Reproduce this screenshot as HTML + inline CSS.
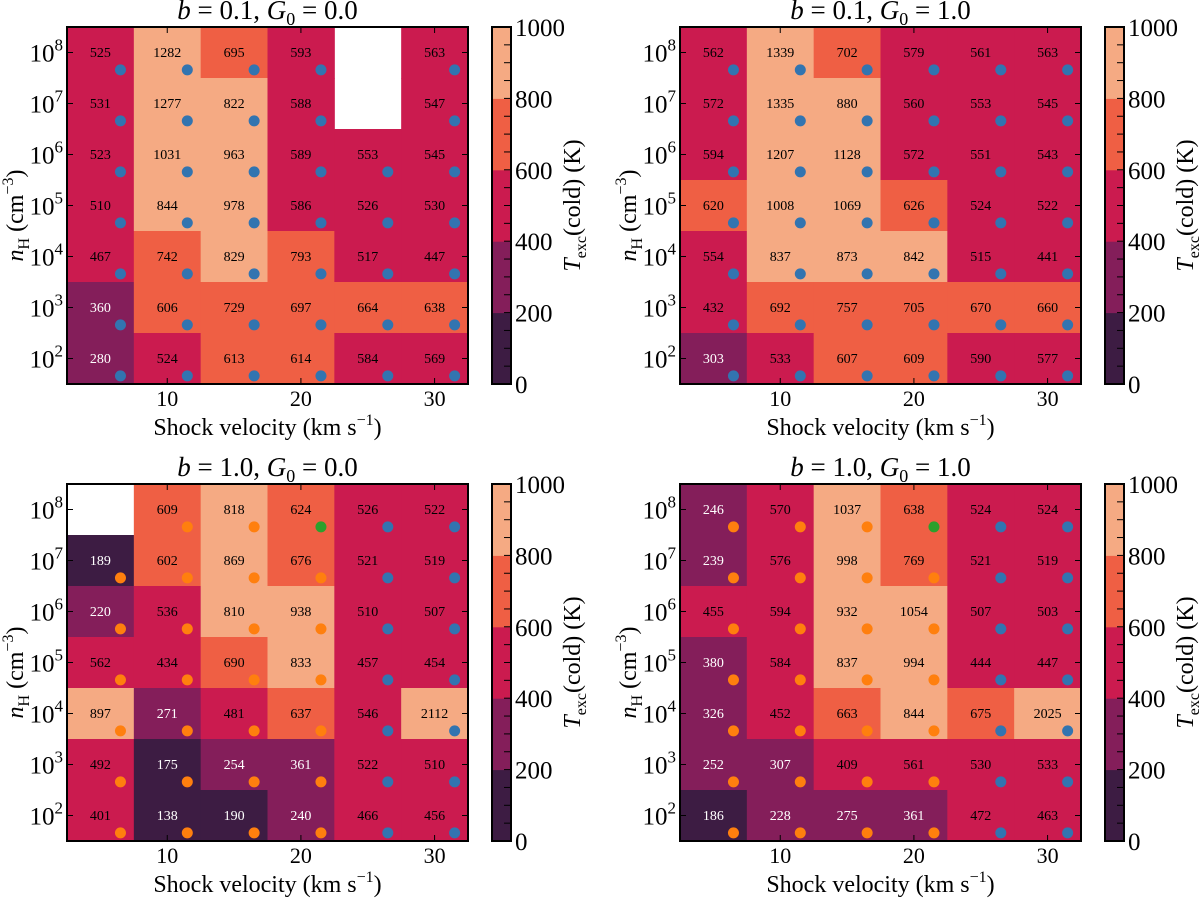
<!DOCTYPE html>
<html><head><meta charset="utf-8"><style>
body{margin:0;background:#fff}
svg text{font-family:"Liberation Serif",serif}
</style></head><body>
<svg id="fig" width="1200" height="898" viewBox="0 0 1200 898" xmlns="http://www.w3.org/2000/svg"></svg>
<script>
const velocities=[5,10,15,20,25,30];
const densExp=[8,7,6,5,4,3,2];
const titlesB=["0.1","0.1","1.0","1.0"];
const titlesG=["0.0","1.0","0.0","1.0"];
const tempP1=[[525,1282,695,593,null,563],[531,1277,822,588,null,547],[523,1031,963,589,553,545],[510,844,978,586,526,530],[467,742,829,793,517,447],[360,606,729,697,664,638],[280,524,613,614,584,569]];
const tempP2=[[562,1339,702,579,561,563],[572,1335,880,560,553,545],[594,1207,1128,572,551,543],[620,1008,1069,626,524,522],[554,837,873,842,515,441],[432,692,757,705,670,660],[303,533,607,609,590,577]];
const tempP3=[[null,609,818,624,526,522],[189,602,869,676,521,519],[220,536,810,938,510,507],[562,434,690,833,457,454],[897,271,481,637,546,2112],[492,175,254,361,522,510],[401,138,190,240,466,456]];
const tempP4=[[246,570,1037,638,524,524],[239,576,998,769,521,519],[455,594,932,1054,507,503],[380,584,837,994,444,447],[326,452,663,844,675,2025],[252,307,409,561,530,533],[186,228,275,361,472,463]];
// dot type: b=blue, o=orange, g=green
const dotsP1=["bbbbbb","bbbbbb","bbbbbb","bbbbbb","bbbbbb","bbbbbb","bbbbbb"];
const dotsP2=["bbbbbb","bbbbbb","bbbbbb","bbbbbb","bbbbbb","bbbbbb","bbbbbb"];
const dotsP3=["-oogbb","oooobb","oooobb","oooobb","oooobb","oooobb","oooobb"];
const dotsP4=["ooogbb","oooobb","oooobb","oooobb","oooobb","oooobb","oooobb"];
const cbarTicks=[0,200,400,600,800,1000];
const xTicks=[10,20,30];

const NS="http://www.w3.org/2000/svg";
const svg=document.getElementById('fig');
function el(tag,attrs,parent){const e=document.createElementNS(NS,tag);for(const k in attrs)e.setAttribute(k,attrs[k]);(parent||svg).appendChild(e);return e;}
const bins=["#3d1c43","#841e5a","#cb1b4f","#ef5f44","#f5aa83"];
function cmap(v){let i=Math.floor(v/200);if(i<0)i=0;if(i>4)i=4;return bins[i];}
const dotCol={b:"#3274b0",o:"#ff7f0e",g:"#2ca02c"};
const AX_W=401,AX_H=357;
function xs(v,ox){return ox+(v-2.5)*AX_W/30;}
function ys(e,oy){return oy+(8.5-e)*AX_H/7;}
function cs(t,oy){return oy+AX_H-t/1000*AX_H;}

const panels=[[tempP1,dotsP1,0,0],[tempP2,dotsP2,613,0],[tempP3,dotsP3,0,457],[tempP4,dotsP4,613,457]];
panels.forEach((p,pi)=>{
  const [data,dots,dx,dy]=p;
  const ox=67+dx, oy=27+dy;
  const g=el('g',{});
  
  
  densExp.forEach((e,r)=>{velocities.forEach((v,c)=>{
    const val=data[r][c];
    const x0=xs(v-2.5,ox),x1=xs(v+2.5,ox),y0=ys(e+0.5,oy),y1=ys(e-0.5,oy);
    if(val!==null){
      const rc=el('rect',{x:x0,y:y0,width:x1-x0+0.5,height:y1-y0+0.5,fill:cmap(val)},g);
      
      
      const t=el('text',{x:xs(v,ox),y:ys(e,oy)+4.5,'font-size':14,'text-anchor':'middle',fill:val<400?'#fff':'#000'},g);
      t.textContent=val;
      
      
    }
    const d=dots[r][c];
    if(d!=='-'&&val!==null){
      const ci=el('circle',{cx:xs(v+1.5,ox),cy:ys(e-0.34,oy),r:5.5,fill:dotCol[d]},g);
      
      
    }
  });});
  densExp.forEach(e=>{const y=ys(e,oy);
    el('line',{x1:ox,x2:ox+6,y1:y,y2:y,stroke:'#000','stroke-width':1},g);
    el('line',{x1:ox+AX_W-6,x2:ox+AX_W,y1:y,y2:y,stroke:'#000','stroke-width':1},g);
    const t=el('text',{x:ox-4,y:y+9,'font-size':25,'text-anchor':'end'},g);
    t.innerHTML='10<tspan dy="-11" font-size="17">'+e+'</tspan>';
    
    
  });
  xTicks.forEach(v=>{const x=xs(v,ox);
    el('line',{x1:x,x2:x,y1:oy+AX_H,y2:oy+AX_H-6,stroke:'#000'},g);
    el('line',{x1:x,x2:x,y1:oy,y2:oy+6,stroke:'#000'},g);
    const t=el('text',{x:x,y:oy+AX_H+22,'font-size':22,'text-anchor':'middle'},g);
    t.textContent=v;
    
    
  });
  const fr=el('rect',{x:ox,y:oy,width:AX_W,height:AX_H,fill:'none',stroke:'#000','stroke-width':2},g);
  
  
  const ti=el('text',{x:ox+AX_W/2,y:oy-8,'font-size':27,'text-anchor':'middle'},g);
  ti.innerHTML='<tspan font-style="italic">b</tspan> = '+titlesB[pi]+', <tspan font-style="italic">G</tspan><tspan dy="6" font-size="18">0</tspan><tspan dy="-6"> = '+titlesG[pi]+'</tspan>';
  
  
  const xl=el('text',{x:ox+AX_W/2,y:oy+AX_H+51,'font-size':24,'text-anchor':'middle'},g);
  xl.innerHTML='Shock velocity (km s<tspan dy="-10" font-size="16">−1</tspan><tspan dy="10">)</tspan>';
  
  
  const yl=el('text',{x:0,y:0,'font-size':24,'text-anchor':'middle',transform:'translate('+(ox-44)+','+(oy+AX_H/2+10)+') rotate(-90)'},g);
  yl.innerHTML='<tspan font-style="italic">n</tspan><tspan dy="6" font-size="16">H</tspan><tspan dy="-6"> (cm</tspan><tspan dy="-10" font-size="16">−3</tspan><tspan dy="10">)</tspan>';
  
  
  const cx=ox+425,cw=19;
  const cb=el('g',{},g);
  
  
  bins.forEach((c,i)=>{el('rect',{x:cx,y:cs((i+1)*200,oy),width:cw,height:AX_H/5+0.5,fill:c},cb);});
  for(let t=50;t<1000;t+=50){el('line',{x1:cx+cw-7,x2:cx+cw,y1:cs(t,oy),y2:cs(t,oy),stroke:'#000'},cb);}
  el('rect',{x:cx,y:oy,width:cw,height:AX_H,fill:'none',stroke:'#000','stroke-width':2},cb);
  cbarTicks.forEach(t=>{const tt=el('text',{x:cx+cw+4,y:cs(t,oy)+9,'font-size':25},cb);
    tt.textContent=t;
    
    
  });
  const cl=el('text',{x:0,y:0,'font-size':24,'text-anchor':'middle',transform:'translate('+(cx+88)+','+(oy+AX_H/2)+') rotate(-90)'},g);
  cl.innerHTML='<tspan font-style="italic">T</tspan><tspan dy="6" font-size="16">exc</tspan><tspan dy="-6">(cold) (K)</tspan>';
  
  
});
</script>
</body></html>
